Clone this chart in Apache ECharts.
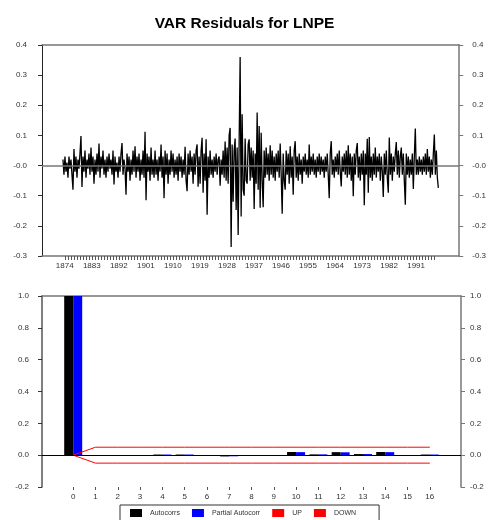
<!DOCTYPE html>
<html>
<head>
<meta charset="utf-8">
<script src="https://cdn.jsdelivr.net/npm/echarts@6/dist/echarts.min.js"></script>
<style>
  html, body { margin: 0; padding: 0; background: #fff; }
  #chart { width: 489px; height: 520px; }
</style>
</head>
<body>
<div id="chart"></div>
<script>
// residual series (about 3 points per year)
var startYear = 1873.4;
var step = 1 / 3;
var residuals = [
  0.02,-0.03,0.03,-0.02,0.01,-0.04,0.03,-0.01,0.02,-0.03,-0.08,0.055,-0.02,0.03,-0.04,0.02,-0.01,0.04,0.098,-0.071,
  0.03,-0.02,0.05,-0.04,0.02,-0.01,0.04,-0.03,0.06,-0.02,0.03,-0.06,0.02,-0.03,0.04,-0.02,0.073,-0.04,0.03,-0.01,
  0.05,-0.03,0.02,-0.04,0.03,-0.02,0.04,-0.01,0.02,-0.03,0.05,-0.063,0.03,-0.02,0.01,-0.04,0.03,-0.02,0.04,0.075,
  -0.03,0.02,-0.01,-0.097,0.04,-0.02,0.03,-0.05,0.02,-0.03,0.05,-0.02,0.064,-0.04,0.03,-0.02,0.04,-0.05,0.02,-0.03,
  0.05,-0.04,0.112,-0.115,0.04,-0.02,0.03,-0.05,0.06,-0.03,0.02,-0.04,0.05,-0.03,0.02,-0.05,0.03,-0.02,0.07,-0.04,
  0.03,-0.108,0.05,-0.03,0.04,-0.06,0.02,-0.03,0.05,-0.02,0.04,-0.04,0.02,-0.03,0.03,-0.05,0.04,-0.02,0.03,-0.04,
  0.02,-0.03,0.062,-0.05,-0.085,0.04,-0.03,0.05,-0.02,0.03,-0.06,0.04,-0.03,0.05,0.07,-0.07,0.03,-0.06,0.05,0.092,
  -0.09,0.04,-0.05,0.087,-0.163,0.03,-0.04,0.05,-0.03,0.02,-0.04,0.03,-0.02,0.04,-0.03,0.02,0.03,-0.067,0.02,-0.03,
  0.05,-0.04,0.08,-0.05,0.06,-0.06,0.1,0.125,-0.27,0.07,-0.12,0.05,0.09,-0.147,0.06,-0.23,0.08,0.36,-0.169,0.17,
  -0.08,-0.1,0.09,-0.05,-0.06,0.07,0.087,-0.05,0.06,-0.04,0.05,-0.144,0.04,-0.06,0.176,-0.08,0.131,-0.14,0.109,-0.05,
  -0.138,0.05,-0.04,0.06,-0.03,0.04,-0.05,0.067,-0.03,0.05,-0.04,0.03,-0.05,0.04,-0.02,0.05,-0.04,0.073,-0.03,-0.16,
  0.04,-0.05,-0.08,0.05,-0.03,0.04,-0.06,0.064,-0.04,0.03,-0.097,0.05,0.081,-0.04,0.03,-0.05,0.04,-0.03,0.02,-0.06,
  0.03,-0.02,0.04,-0.03,0.02,-0.04,0.07,-0.03,0.03,-0.02,0.04,-0.03,0.02,-0.04,0.03,-0.02,0.04,-0.03,0.03,-0.02,
  0.02,-0.04,0.03,-0.02,0.04,-0.03,-0.108,0.04,0.081,-0.03,0.02,-0.04,0.03,-0.02,0.04,-0.03,0.05,-0.02,-0.069,0.03,
  -0.02,0.04,-0.03,0.05,-0.04,0.067,-0.03,0.04,-0.05,0.03,-0.102,0.04,-0.03,0.05,0.075,-0.04,0.03,-0.05,0.04,-0.03,
  0.05,-0.132,0.04,-0.03,0.089,-0.09,0.095,-0.04,0.03,-0.05,0.04,-0.03,0.06,-0.04,0.03,-0.02,0.04,-0.05,0.03,-0.02,
  -0.104,0.04,-0.03,0.05,-0.04,-0.09,0.093,-0.03,0.04,-0.05,0.03,-0.02,0.04,0.078,-0.03,0.05,-0.04,0.03,0.06,-0.03,
  0.04,-0.05,-0.13,0.04,-0.03,0.03,-0.04,0.02,-0.03,0.04,-0.078,0.03,0.123,-0.03,0.02,-0.03,0.03,-0.02,0.02,-0.03,
  0.03,-0.02,0.04,-0.03,0.055,-0.02,0.03,-0.04,0.02,-0.03,0.04,0.103,-0.03,0.05,-0.04,-0.074
];
var yearLabels = [1874, 1883, 1892, 1901, 1910, 1919, 1928, 1937, 1946, 1955, 1964, 1973, 1982, 1991];

// correlogram
var lags = [0, 1, 2, 3, 4, 5, 6, 7, 8, 9, 10, 11, 12, 13, 14, 15, 16];
var autocorrs = [1, 0.001, -0.003, 0.001, 0.004, 0.004, -0.003, -0.008, 0.001, 0.001, 0.02, 0.005, 0.019, 0.007, 0.02, -0.004, 0.004];
var partialAutocorr = [1, 0.001, -0.003, 0.001, 0.004, 0.004, -0.003, -0.007, 0.001, 0.001, 0.019, 0.005, 0.018, 0.007, 0.019, -0.005, 0.004];
var up = [0, 0.05, 0.05, 0.05, 0.05, 0.05, 0.05, 0.05, 0.05, 0.05, 0.05, 0.05, 0.05, 0.05, 0.05, 0.05, 0.05];
var down = [0, -0.05, -0.05, -0.05, -0.05, -0.05, -0.05, -0.05, -0.05, -0.05, -0.05, -0.05, -0.05, -0.05, -0.05, -0.05, -0.05];

var FONT = 'Liberation Sans, Arial, sans-serif';
var GRAY = '#777';

var tickYears = [];
for (var y = 1874; y <= 1997; y++) tickYears.push(y);

function pairs(xs, ys) {
  return xs.map(function (x, i) { return [x, ys[i]]; });
}
var resData = residuals.map(function (v, i) { return [startYear + i * step, v]; });

function fmt1(v) {
  if (v === 0) return '-0.0';
  return v.toFixed(1);
}
function fmtAcf(v) {
  return v.toFixed(1);
}

var labelStyle = { fontFamily: FONT, fontSize: 8, color: '#333' };

var chart = echarts.init(document.getElementById('chart'));
var option = {
  animation: false,
  backgroundColor: '#fff',
  title: {
    text: 'VAR Residuals for LNPE',
    left: 'center',
    top: 11,
    textStyle: { fontFamily: FONT, fontSize: 15.5, fontWeight: 'bold', color: '#000' }
  },
  legend: {
    left: 120,
    top: 505,
    orient: 'horizontal',
    itemWidth: 12,
    itemHeight: 8,
    itemGap: 12,
    padding: [4, 23, 8, 10],
    borderColor: '#333',
    borderWidth: 1,
    textStyle: { fontFamily: FONT, fontSize: 7, color: '#333', padding: [0, 0, 0, 3] },
    data: [
      { name: 'Autocorrs', icon: 'rect' },
      { name: 'Partial Autocorr', icon: 'rect' },
      { name: 'UP', icon: 'rect' },
      { name: 'DOWN', icon: 'rect' }
    ]
  },
  grid: [
    { left: 42, right: 29, top: 45, height: 211 },
    { left: 42, right: 28, top: 296, height: 191 }
  ],
  xAxis: [
    {
      gridIndex: 0, type: 'value', min: 1866.42, max: 2005.35,
      axisLine: { show: true, onZero: false, lineStyle: { color: GRAY, width: 1.5 } },
      axisTick: { show: true, length: 4, lineStyle: { color: '#555' }, customValues: tickYears },
      axisLabel: Object.assign({ margin: 6, customValues: yearLabels, formatter: function (v) { return String(Math.round(v)); } }, labelStyle),
      splitLine: { show: false }
    },
    {
      gridIndex: 0, type: 'value', position: 'top', min: 1866.42, max: 2005.35,
      axisLine: { show: true, onZero: false, lineStyle: { color: GRAY, width: 1.5 } },
      axisTick: { show: false }, axisLabel: { show: false }, splitLine: { show: false }
    },
    {
      gridIndex: 1, type: 'value', min: -1.4, max: 17.4,
      axisLine: { show: false, onZero: false },
      axisTick: { show: true, length: 3, lineStyle: { color: '#555' }, customValues: lags },
      axisLabel: Object.assign({ margin: 6, customValues: lags }, labelStyle),
      splitLine: { show: false }
    },
    {
      gridIndex: 1, type: 'value', position: 'top', min: -1.4, max: 17.4,
      axisLine: { show: true, onZero: false, lineStyle: { color: GRAY, width: 1.5 } },
      axisTick: { show: false }, axisLabel: { show: false }, splitLine: { show: false }
    }
  ],
  yAxis: [
    {
      gridIndex: 0, type: 'value', min: -0.3, max: 0.4, interval: 0.1,
      axisLine: { show: true, onZero: false, lineStyle: { color: '#222' } },
      axisTick: { show: true, length: 4, lineStyle: { color: '#333' } },
      axisLabel: Object.assign({ margin: 15, formatter: fmt1 }, labelStyle),
      splitLine: { show: false }
    },
    {
      gridIndex: 0, type: 'value', position: 'right', min: -0.3, max: 0.4, interval: 0.1,
      axisLine: { show: true, onZero: false, lineStyle: { color: GRAY, width: 1.5 } },
      axisTick: { show: true, length: 4, lineStyle: { color: GRAY } },
      axisLabel: Object.assign({ margin: 13, formatter: fmt1 }, labelStyle),
      splitLine: { show: false }
    },
    {
      gridIndex: 1, type: 'value', min: -0.2, max: 1.0, interval: 0.2,
      axisLine: { show: true, onZero: false, lineStyle: { color: '#555', width: 1.5 } },
      axisTick: { show: true, length: 4, lineStyle: { color: '#333' } },
      axisLabel: Object.assign({ margin: 13, formatter: fmtAcf }, labelStyle),
      splitLine: { show: false }
    },
    {
      gridIndex: 1, type: 'value', position: 'right', min: -0.2, max: 1.0, interval: 0.2,
      axisLine: { show: true, onZero: false, lineStyle: { color: GRAY, width: 1.5 } },
      axisTick: { show: true, length: 4, lineStyle: { color: GRAY } },
      axisLabel: Object.assign({ margin: 9, formatter: fmtAcf }, labelStyle),
      splitLine: { show: false }
    }
  ],
  series: [
    {
      name: 'zero', type: 'line', xAxisIndex: 0, yAxisIndex: 0, data: [], z: 1,
      markLine: {
        silent: true, symbol: 'none', label: { show: false },
        lineStyle: { color: GRAY, type: 'solid', width: 1.5 },
        data: [{ yAxis: 0 }]
      }
    },
    {
      name: 'Residuals', type: 'line', xAxisIndex: 0, yAxisIndex: 0, z: 2,
      data: resData, symbol: 'none', sampling: null,
      lineStyle: { color: '#000', width: 1.3 }
    },
    {
      name: 'Autocorrs', type: 'bar', xAxisIndex: 2, yAxisIndex: 2,
      data: pairs(lags, autocorrs), barWidth: 9, barGap: '0%',
      itemStyle: { color: '#000' }
    },
    {
      name: 'Partial Autocorr', type: 'bar', xAxisIndex: 2, yAxisIndex: 2,
      data: pairs(lags, partialAutocorr), barWidth: 9, barGap: '0%',
      itemStyle: { color: '#0000ff' }
    },
    {
      name: 'UP', type: 'line', xAxisIndex: 2, yAxisIndex: 2, z: 3,
      data: pairs(lags, up), symbol: 'none',
      lineStyle: { color: '#ff0000', width: 1 }, itemStyle: { color: '#ff0000' },
      markLine: {
        silent: true, symbol: 'none', label: { show: false },
        lineStyle: { color: '#000', type: 'solid', width: 1 },
        data: [{ yAxis: 0 }]
      }
    },
    {
      name: 'DOWN', type: 'line', xAxisIndex: 2, yAxisIndex: 2, z: 3,
      data: pairs(lags, down), symbol: 'none',
      lineStyle: { color: '#ff0000', width: 1 }, itemStyle: { color: '#ff0000' }
    }
  ]
};
chart.setOption(option);
</script>
</body>
</html>
